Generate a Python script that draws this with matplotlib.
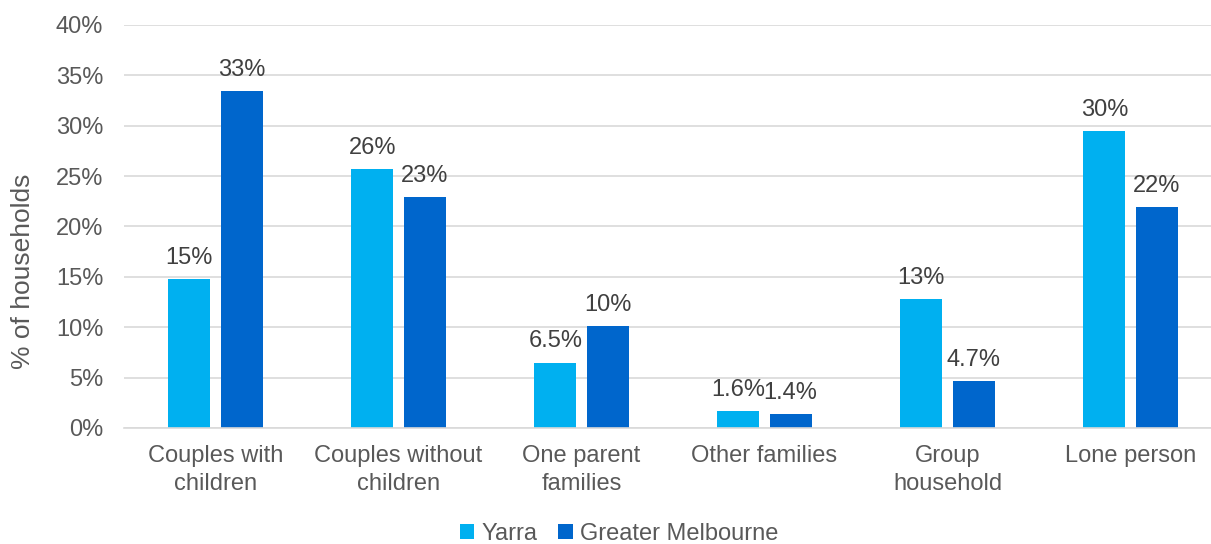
import matplotlib
matplotlib.use("Agg")
import matplotlib.pyplot as plt
import numpy as np

categories = ["Couples with\nchildren", "Couples without\nchildren", "One parent\nfamilies",
              "Other families", "Group\nhousehold", "Lone person"]
yarra = [14.8, 25.7, 6.5, 1.7, 12.8, 29.5]
melbourne = [33.4, 22.9, 10.1, 1.4, 4.7, 21.9]
yarra_labels = ["15%", "26%", "6.5%", "1.6%", "13%", "30%"]
melb_labels = ["33%", "23%", "10%", "1.4%", "4.7%", "22%"]
series_names = ["Yarra", "Greater Melbourne"]
yticks = [0, 5, 10, 15, 20, 25, 30, 35, 40]

plt.rcParams['font.family'] = ['Liberation Sans', 'DejaVu Sans']
gray = "#595959"
c1, c2 = "#00B0F0", "#0066CC"
fs = 17

fig = plt.figure(figsize=(12.11, 5.44), dpi=100)
ax = fig.add_axes([124/1211, 1-428/544, 1098/1211, (428-25)/544])

x = np.arange(len(categories))
w = 0.23
off = 0.143
b1 = ax.bar(x - off, yarra, w, color=c1, label=series_names[0], zorder=3)
b2 = ax.bar(x + off, melbourne, w, color=c2, label=series_names[1], zorder=3)

for xi, v, t in zip(x - off, yarra, yarra_labels):
    ax.text(xi, v + 1.0, t, ha="center", va="bottom", fontsize=fs, color="#404040")
for xi, v, t in zip(x + off, melbourne, melb_labels):
    ax.text(xi, v + 1.0, t, ha="center", va="bottom", fontsize=fs, color="#404040")

ax.set_xlim(-0.5, 5.5)
ax.set_ylim(0, 40)
ax.set_yticks(yticks)
ax.set_yticklabels([f"{t}%" for t in yticks], fontsize=fs, color=gray)
ax.set_xticks(x)
ax.set_xticklabels(categories, fontsize=fs, color=gray, linespacing=1.4)
ax.tick_params(axis="y", length=0, pad=15)
ax.tick_params(axis="x", length=0, pad=12)
ax.grid(axis="y", color="#D9D9D9", linewidth=1.2, zorder=0)
for s in ["top", "right", "left"]:
    ax.spines[s].set_visible(False)
ax.spines["bottom"].set_color("#D9D9D9")
ax.spines["bottom"].set_linewidth(1.2)
ax.spines["bottom"].set_zorder(4)
ax.set_ylabel("% of households", fontsize=19, color=gray, labelpad=14)
ax.yaxis.set_label_coords(-0.081, 0.39)

fig.legend(handles=[b1, b2], labels=series_names, loc="center", bbox_to_anchor=(619/1211, 1-534/544),
           ncol=2, frameon=False, fontsize=fs, handlelength=0.6, handleheight=0.6,
           handletextpad=0.3, columnspacing=0.9, labelcolor=gray)

fig.savefig("out.png", dpi=100)
